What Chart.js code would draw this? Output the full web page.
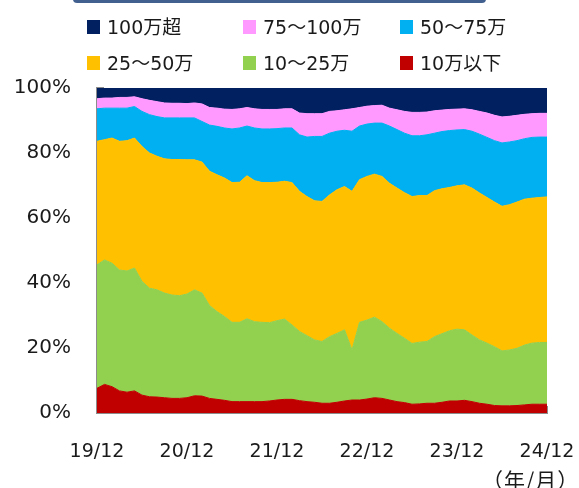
<!DOCTYPE html>
<html lang="ja">
<head>
<meta charset="utf-8">
<title>価格帯別構成比</title>
<script src="https://cdn.jsdelivr.net/npm/chart.js@4.4.1/dist/chart.umd.min.js"></script>
<style>
    html, body { margin: 0; padding: 0; background: #fff; }
    #wrap { position: relative; width: 579px; height: 488px; overflow: hidden; }
    #chart { position: absolute; left: 0; top: 0; }
    .head-bar {
        position: absolute; left: 73px; top: -10px; width: 413px; height: 13px;
        background: #41608f; border-radius: 4px;
    }
    .legend { position: absolute; left: 0; top: 0; }
    .legend-item {
        position: absolute; display: flex; align-items: center; white-space: nowrap;
        font: 19px 'DejaVu Sans', 'Noto Sans CJK JP', sans-serif; color: #1a1a1a;
        line-height: 22px; height: 22px;
    }
    .legend-item i { display: inline-block; width: 13px; height: 14px; margin-right: 7px; }
    .unit {
        position: absolute; left: 482px; top: 467px;
        font: 21px 'Noto Sans CJK JP', 'DejaVu Sans', sans-serif; color: #1a1a1a;
        line-height: 24px; letter-spacing: 1px;
    }
</style>
</head>
<body>
<div id="wrap">
    <div class="head-bar"></div>
    <canvas id="chart" width="579" height="488"></canvas>
    <div class="legend" id="legend"></div>
    <div class="unit">（年/月）</div>
</div>
<script>
(function () {
    'use strict';

    // Tick labels on the x axis (every December)
    var yearTicks = ['19/12', '20/12', '21/12', '22/12', '23/12', '24/12'];

    // Monthly categories 19/12 .. 24/12
    var months = [];
    for (var y = 19, m = 12; y < 24 || (y === 24 && m <= 12); ) {
        months.push(y + '/' + m);
        m++;
        if (m > 12) { m = 1; y++; }
    }

    // Share of each price band (%)
    var under10 = [
        7.6, 8.8, 8.1, 6.8, 6.4, 6.8, 5.5, 5.0, 4.9, 4.7,
        4.5, 4.5, 4.7, 5.3, 5.2, 4.5, 4.2, 3.9, 3.5, 3.5,
        3.5, 3.5, 3.5, 3.7, 4.0, 4.2, 4.2, 3.8, 3.5, 3.3,
        3.0, 3.0, 3.3, 3.7, 4.0, 4.0, 4.3, 4.7, 4.5, 4.0,
        3.5, 3.2, 2.7, 2.8, 3.0, 3.0, 3.3, 3.7, 3.7, 3.9,
        3.5, 3.0, 2.7, 2.3, 2.2, 2.2, 2.3, 2.5, 2.7, 2.7,
        2.7
    ];
    var from10to25 = [
        38.0, 38.3, 38.0, 37.2, 37.3, 37.8, 35.0, 33.4, 33.0, 32.2,
        31.8, 31.6, 31.9, 32.6, 31.7, 28.6, 27.0, 25.8, 24.4, 24.4,
        25.5, 24.6, 24.4, 24.1, 24.4, 24.7, 22.9, 21.3, 20.3, 19.2,
        19.0, 20.5, 21.2, 21.9, 15.4, 23.9, 24.3, 24.8, 23.6, 22.1,
        21.0, 19.8, 18.7, 19.0, 19.0, 20.5, 21.1, 21.6, 22.1, 21.7,
        20.5, 19.5, 18.8, 18.1, 16.9, 17.2, 17.6, 18.4, 18.8, 19.0,
        19.0
    ];
    var from25to50 = [
        38.0, 37.0, 38.5, 39.6, 40.1, 40.0, 41.5, 41.6, 41.1, 41.3,
        41.7, 41.9, 41.3, 40.0, 40.3, 41.3, 42.1, 42.6, 43.0, 43.1,
        44.0, 43.4, 43.0, 43.1, 42.6, 42.4, 43.8, 43.1, 42.8, 42.8,
        43.1, 43.6, 44.2, 44.1, 48.8, 43.9, 44.2, 44.0, 44.7, 44.6,
        44.7, 44.8, 45.2, 45.1, 44.9, 44.9, 44.6, 44.1, 44.1, 44.6,
        45.2, 45.2, 44.8, 44.5, 44.5, 44.7, 45.0, 44.9, 44.6, 44.6,
        44.8
    ];
    var from50to75 = [
        10.0, 9.7, 9.2, 10.2, 10.0, 9.7, 10.8, 11.8, 12.2, 12.6,
        12.8, 12.8, 12.9, 12.9, 12.5, 14.2, 14.9, 15.4, 16.5, 16.7,
        15.3, 16.2, 16.5, 16.5, 16.5, 16.4, 16.8, 17.4, 18.3, 19.8,
        20.0, 19.0, 18.0, 17.3, 18.5, 16.5, 16.1, 15.7, 16.4, 17.6,
        18.0, 18.3, 18.7, 18.4, 18.7, 17.7, 17.6, 17.5, 17.2, 17.0,
        17.5, 18.1, 18.5, 18.9, 19.5, 19.3, 18.9, 18.6, 18.7, 18.6,
        18.4
    ];
    var from75to100 = [
        3.1, 3.1, 3.1, 3.3, 3.3, 3.0, 3.9, 4.4, 4.6, 4.6,
        4.5, 4.5, 4.4, 4.6, 5.4, 5.4, 5.6, 5.8, 6.0, 5.9,
        5.7, 5.9, 6.0, 6.0, 5.9, 5.9, 5.9, 6.7, 7.2, 7.0,
        7.0, 6.7, 6.3, 6.3, 6.9, 5.7, 5.5, 5.4, 5.5, 5.5,
        6.1, 6.7, 7.2, 7.2, 7.0, 6.9, 6.6, 6.5, 6.4, 6.4,
        6.6, 7.0, 7.5, 7.8, 8.0, 7.9, 7.8, 7.5, 7.3, 7.3,
        7.3
    ];
    var over100 = [
        3.3, 3.1, 3.1, 2.9, 2.9, 2.7, 3.3, 3.8, 4.2, 4.6,
        4.7, 4.7, 4.8, 4.6, 4.9, 6.0, 6.2, 6.5, 6.6, 6.4,
        6.0, 6.4, 6.6, 6.6, 6.6, 6.4, 6.4, 7.7, 7.9, 7.9,
        7.9, 7.2, 7.0, 6.7, 6.4, 6.0, 5.6, 5.4, 5.3, 6.2,
        6.7, 7.2, 7.5, 7.5, 7.4, 7.0, 6.8, 6.6, 6.5, 6.4,
        6.7, 7.2, 7.7, 8.4, 8.9, 8.7, 8.4, 8.1, 7.9, 7.8,
        7.8
    ];

    var seriesNames = ['10万以下', '10～25万', '25～50万', '50～75万', '75～100万', '100万超'];
    var seriesData = [under10, from10to25, from25to50, from50to75, from75to100, over100];
    var seriesColors = ['#c00000', '#92d050', '#ffc000', '#00b0f0', '#ff99ff', '#002060'];

    // Legend order as in the picture (3 columns x 2 rows)
    var legendOrder = [5, 4, 3, 2, 1, 0];
    var legendCols = [87, 243, 400];
    var legendRows = [16, 52];

    var axisColor = '#8c8c8c';
    var fontFamily = "'DejaVu Sans', 'Noto Sans CJK JP', sans-serif";

    var datasets = seriesData.map(function (data, i) {
        return {
            label: seriesNames[i],
            data: data,
            backgroundColor: seriesColors[i],
            borderColor: seriesColors[i],
            borderWidth: 1,
            pointRadius: 0,
            pointHoverRadius: 0,
            tension: 0,
            fill: i === 0 ? 'origin' : '-1'
        };
    });

    var chart = new Chart(document.getElementById('chart').getContext('2d'), {
        type: 'line',
        data: { labels: months, datasets: datasets },
        options: {
            responsive: false,
            animation: false,
            events: [],
            layout: { padding: { top: 88, right: 32, bottom: 0, left: 0 } },
            plugins: {
                legend: { display: false },
                tooltip: { enabled: false }
            },
            scales: {
                x: {
                    z: 1,
                    offset: false,
                    border: { color: axisColor, width: 2 },
                    grid: {
                        drawOnChartArea: false,
                        tickLength: -7,
                        lineWidth: 2,
                        color: function (ctx) {
                            return ctx.index % 12 === 0 ? axisColor : 'rgba(0,0,0,0)';
                        }
                    },
                    ticks: {
                        autoSkip: false,
                        maxRotation: 0,
                        padding: 35,
                        color: '#1a1a1a',
                        font: { family: fontFamily, size: 19 },
                        callback: function (value, index) {
                            return index % 12 === 0 ? yearTicks[index / 12] : '';
                        }
                    },
                    afterFit: function (scale) {
                        scale.height = 75;
                        // label overhang is already covered by the layout padding
                        scale.paddingLeft = 0;
                        scale.paddingRight = 0;
                    }
                },
                y: {
                    z: 1,
                    stacked: true,
                    min: 0,
                    max: 100,
                    border: { color: axisColor, width: 2 },
                    grid: {
                        drawOnChartArea: false,
                        tickLength: -7,
                        lineWidth: 2,
                        color: axisColor
                    },
                    ticks: {
                        stepSize: 20,
                        padding: 33,
                        color: '#1a1a1a',
                        font: { family: fontFamily, size: 20 },
                        callback: function (value) { return value + '%'; }
                    },
                    afterFit: function (scale) {
                        scale.width = 97;
                        scale.paddingTop = 0;
                        scale.paddingBottom = 0;
                    }
                }
            }
        }
    });

    // Build the legend from the chart's datasets
    var legend = document.getElementById('legend');
    legendOrder.forEach(function (dsIndex, pos) {
        var ds = chart.data.datasets[dsIndex];
        var item = document.createElement('div');
        item.className = 'legend-item';
        item.style.left = legendCols[pos % 3] + 'px';
        item.style.top = legendRows[Math.floor(pos / 3)] + 'px';
        var box = document.createElement('i');
        box.style.background = ds.backgroundColor;
        item.appendChild(box);
        item.appendChild(document.createTextNode(ds.label));
        legend.appendChild(item);
    });
})();
</script>
</body>
</html>
